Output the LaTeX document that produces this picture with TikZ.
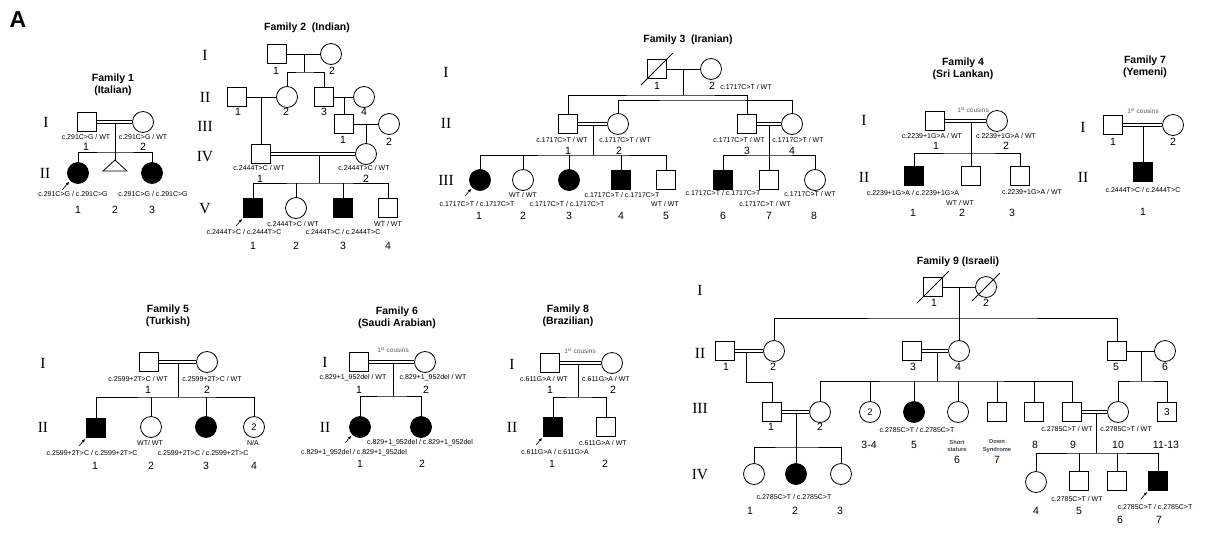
\documentclass[tikz,border=0pt]{standalone}
\usepackage{fontspec}
\setmainfont{Liberation Sans}
\newfontfamily\romfont{Liberation Serif}
\usetikzlibrary{arrows.meta, calc}
\definecolor{ccous}{HTML}{4F5B6E}
\definecolor{cnote}{HTML}{3A4250}
\tikzset{
  every picture/.style={line width=0.8pt},
  male/.style={draw, rectangle, minimum size=19pt, inner sep=0pt},
  female/.style={draw, circle, minimum size=21pt, inner sep=0pt, font=\fontsize{9.5}{9.5}\selectfont},
  aff/.style={fill=black},
  geno/.style={font=\fontsize{7}{7}\selectfont, inner sep=0pt},
  idnum/.style={font=\fontsize{10.5}{11}\selectfont, inner sep=0pt},
  gen/.style={font=\romfont\fontsize{15.5}{15.5}\selectfont, inner sep=0pt},
  famtitle/.style={font=\bfseries\fontsize{10.5}{12.5}\selectfont, align=center, inner sep=0pt},
  mate/.style={double, double distance=2pt, line width=0.6pt},
  proband/.style={-{Latex[length=3.5pt, width=3pt]}, line width=0.6pt},
  cousins/.style={font=\fontsize{6.5}{7}\selectfont, text=ccous, inner sep=0pt},
  note/.style={font=\bfseries\fontsize{5.8}{7.5}\selectfont, text=cnote, align=center, inner sep=0pt},
}
\begin{document}
\begin{tikzpicture}[x=1pt, y=-1pt]
  \useasboundingbox (0,0) rectangle (1215,544);
  \node[font=\bfseries\fontsize{23}{23}\selectfont, inner sep=0pt] (panel) at (18,20) {A};

  % ---------- Family 1 (Italian) ----------
  \node[famtitle] (t1) at (113,85) {Family 1\\(Italian)};
  \node[gen] (g1a) at (46,122) {I};
  \node[gen] (g1b) at (45,173) {II};
  \node[male] (f1I1) at (87,122) {};
  \node[female] (f1I2) at (143,122) {};
  \coordinate (f1m) at (115,122);
  \coordinate (f1s) at (115,152);
  \node[female, aff] (f1II1) at (78,173) {};
  \coordinate (f1II2) at (115,160);
  \node[female, aff] (f1II3) at (152,173) {};
  \draw (f1m) -- (f1II2);
  \draw[mate] (f1I1) -- (f1I2);
  \draw (f1II1.north) |- (f1s) -| (f1II3.north);
  \draw (f1II2) -- ++(12,11) -- ++(-24,0) -- cycle;
  \draw[proband] ([shift={(-8,9)}]f1II1.south west) -- ([shift={(-1,1)}]f1II1.south west);
  \node[geno] (f1g1) at (86,137) {c.291C>G / WT};
  \node[geno] (f1g2) at (143,137) {c.291C>G / WT};
  \node[geno] (f1g3) at (73,194) {c.291C>G / c.291C>G};
  \node[geno] (f1g4) at (153,194) {c.291C>G / c.291C>G};
  \node[idnum] (f1nI1) at (86,147) {1};
  \node[idnum] (f1nI2) at (143,147) {2};
  \foreach \x/\n in {78/1, 115/2, 152/3}
    \node[idnum] (f1n\n) at (\x,210) {\n};

  % ---------- Family 2 (Indian) ----------
  \node[famtitle] (t2) at (307,28) {Family 2\ \ (Indian)};
  \foreach \y/\g [count=\i] in {55/I, 97/II, 126/III, 157/IV, 209/V}
    \node[gen] (g2\i) at (205,\y) {\g};
  \node[male] (f2I1) at (277,54) {};
  \node[female] (f2I2) at (331,54) {};
  \node[male] (f2II1) at (237,97) {};
  \node[female] (f2II2) at (287,97) {};
  \node[male] (f2II3) at (324,97) {};
  \node[female] (f2II4) at (364,97) {};
  \node[male] (f2III1) at (344,124) {};
  \node[female] (f2III2) at (389,124) {};
  \node[male] (f2IV1) at (261,154) {};
  \node[female] (f2IV2) at (366,154) {};
  \node[male, aff] (f2V1) at (253,208) {};
  \node[female] (f2V2) at (296,208) {};
  \node[male, aff] (f2V3) at (343,208) {};
  \node[male] (f2V4) at (388,208) {};
  \coordinate (f2m1) at (304,54);
  \coordinate (f2s1) at (304,72);
  \coordinate (f2m2) at (261,97);
  \coordinate (f2m3) at (344,97);
  \coordinate (f2m4) at (366,124);
  \coordinate (f2m5) at (319,154);
  \coordinate (f2s5) at (319,183);
  \draw (f2I1) -- (f2I2);
  \draw (f2m1) -- (f2s1);
  \draw (f2II2.north) |- (f2s1) -| (f2II3.north);
  \draw (f2II1) -- (f2II2);
  \draw (f2m2) -- (f2IV1.north);
  \draw (f2II3) -- (f2II4);
  \draw (f2m3) -- (f2III1.north);
  \draw (f2III1) -- (f2III2);
  \draw (f2m4) -- (f2IV2.north);
  \draw (f2m5) -- (f2s5);
  \draw[mate] (f2IV1) -- (f2IV2);
  \draw (f2V1.north) |- (f2s5) -| (f2V4.north);
  \foreach \c in {2,3}
    \draw (f2V\c.north) -- (f2V\c.north |- f2s5);
  \draw[proband] ([shift={(-7,8)}]f2V1.south west) -- ([shift={(-1,1)}]f2V1.south west);
  \node[idnum] (f2nI1) at (276,71) {1};
  \node[idnum] (f2nI2) at (332,71) {2};
  \foreach \x/\n in {238/1, 286/2, 324/3, 364/4}
    \node[idnum] (f2nII\n) at (\x,112) {\n};
  \node[idnum] (f2nIII1) at (343,140) {1};
  \node[idnum] (f2nIII2) at (389,142) {2};
  \node[geno] (f2g1) at (259,168) {c.2444T>C / WT};
  \node[geno] (f2g2) at (364,168) {c.2444T>C / WT};
  \node[idnum] (f2nIV1) at (260,179) {1};
  \node[idnum] (f2nIV2) at (366,179) {2};
  \node[geno] (f2g3) at (244,232) {c.2444T>C / c.2444T>C};
  \node[geno] (f2g4) at (293,224) {c.2444T>C / WT};
  \node[geno] (f2g5) at (343,232) {c.2444T>C / c.2444T>C};
  \node[geno] (f2g6) at (388,224) {WT / WT};
  \foreach \x/\n in {253/1, 296/2, 343/3, 388/4}
    \node[idnum] (f2nV\n) at (\x,246) {\n};

  % ---------- Family 3 (Iranian) ----------
  \node[famtitle] (t3) at (688,40) {Family 3\ \ (Iranian)};
  \node[gen] (g3a) at (446,72) {I};
  \node[gen] (g3b) at (446,123) {II};
  \node[gen] (g3c) at (446,180) {III};
  \node[male] (f3I1) at (657,69) {};
  \node[female] (f3I2) at (711,69) {};
  \node[male] (f3II1) at (568,124) {};
  \node[female] (f3II2) at (618,124) {};
  \node[male] (f3II3) at (747,124) {};
  \node[female] (f3II4) at (792,124) {};
  \node[female, aff] (f3III1) at (480,180) {};
  \node[female] (f3III2) at (523,180) {};
  \node[female, aff] (f3III3) at (569,180) {};
  \node[male, aff] (f3III4) at (621,180) {};
  \node[male] (f3III5) at (666,180) {};
  \node[male, aff] (f3III6) at (723,180) {};
  \node[male] (f3III7) at (769,180) {};
  \node[female] (f3III8) at (815,180) {};
  \coordinate (f3m1) at (683,69);
  \coordinate (f3s1) at (683,95);
  \coordinate (f3s2) at (700,100);
  \coordinate (f3m2) at (593,124);
  \coordinate (f3s3) at (593,155);
  \coordinate (f3m3) at (769,124);
  \coordinate (f3s4) at (769,155);
  \draw ([shift={(-6,6)}]f3I1.south west) -- ([shift={(6,-6)}]f3I1.north east);
  \draw (f3I1) -- (f3I2);
  \draw (f3m1) -- (f3s1);
  \draw (f3II1.north) |- (f3s1) -| (f3II3.north);
  \draw (f3II2.north) |- (f3s2) -| (f3II4.north);
  \draw (f3m2) -- (f3s3);
  \draw[mate] (f3II1) -- (f3II2);
  \draw (f3III1.north) |- (f3s3) -| (f3III5.north);
  \foreach \c in {2,3,4}
    \draw (f3III\c.north) -- (f3III\c.north |- f3s3);
  \draw (f3m3) -- (f3III7.north);
  \draw[mate] (f3II3) -- (f3II4);
  \draw (f3III6.north) |- (f3s4) -| (f3III8.north);
  \draw[proband] ([shift={(-7,8)}]f3III1.south west) -- ([shift={(-1,1)}]f3III1.south west);
  \node[idnum] (f3nI1) at (657,86) {1};
  \node[idnum] (f3nI2) at (712,86) {2};
  \node[geno] (f3g0) at (746,87) {c.1717C>T / WT};
  \node[geno] (f3g1) at (562,140) {c.1717C>T / WT};
  \node[geno] (f3g2) at (625,140) {c.1717C>T / WT};
  \node[geno] (f3g3) at (739,140) {c.1717C>T / WT};
  \node[geno] (f3g4) at (798,140) {c.1717C>T / WT};
  \foreach \x/\n in {568/1, 619/2, 747/3, 792/4}
    \node[idnum] (f3nII\n) at (\x,151) {\n};
  \node[geno] (f3g5) at (477,204) {c.1717C>T / c.1717C>T};
  \node[geno] (f3g6) at (523,195) {WT / WT};
  \node[geno] (f3g7) at (567,204) {c.1717C>T / c.1717C>T};
  \node[geno] (f3g8) at (622,195) {c.1717C>T / c.1717C>T};
  \node[geno] (f3g9) at (665,204) {WT / WT};
  \node[geno] (f3g10) at (723,193) {c.1717C>T / c.1717C>T};
  \node[geno] (f3g11) at (765,204) {c.1717C>T / WT};
  \node[geno] (f3g12) at (810,194) {c.1717C>T / WT};
  \foreach \x/\n in {479/1, 523/2, 569/3, 621/4, 666/5, 723/6, 769/7, 814/8}
    \node[idnum] (f3nIII\n) at (\x,216) {\n};

  % ---------- Family 4 (Sri Lankan) ----------
  \node[famtitle] (t4) at (963,69) {Family 4\\(Sri Lankan)};
  \node[gen] (g4a) at (864,120) {I};
  \node[gen] (g4b) at (864,177) {II};
  \node[male] (f4I1) at (935,121) {};
  \node[female] (f4I2) at (997,121) {};
  \node[male, aff] (f4II1) at (914,176) {};
  \node[male] (f4II2) at (971,176) {};
  \node[male] (f4II3) at (1020,176) {};
  \coordinate (f4m) at (971,121);
  \coordinate (f4s) at (971,153);
  \draw (f4m) -- (f4II2.north);
  \draw[mate] (f4I1) -- (f4I2);
  \draw (f4II1.north) |- (f4s) -| (f4II3.north);
  \node[cousins] (f4c) at (973,110) {1\textsuperscript{st} cousins};
  \node[geno] (f4g1) at (932,136) {c.2239+1G>A / WT};
  \node[geno] (f4g2) at (1006,136) {c.2239+1G>A / WT};
  \node[idnum] (f4nI1) at (936,146) {1};
  \node[idnum] (f4nI2) at (1006,146) {2};
  \node[geno] (f4g3) at (913,193) {c.2239+1G>A / c.2239+1G>A};
  \node[geno] (f4g4) at (960,203) {WT / WT};
  \node[geno] (f4g5) at (1032,192) {c.2239+1G>A / WT};
  \foreach \x/\n in {913/1, 962/2, 1012/3}
    \node[idnum] (f4nII\n) at (\x,213) {\n};

  % ---------- Family 7 (Yemeni) ----------
  \node[famtitle] (t7) at (1145,67) {Family 7\\(Yemeni)};
  \node[gen] (g7a) at (1083,127) {I};
  \node[gen] (g7b) at (1083,177) {II};
  \node[male] (f7I1) at (1113,125) {};
  \node[female] (f7I2) at (1173,125) {};
  \node[male, aff] (f7II1) at (1143,172) {};
  \coordinate (f7m) at (1143,125);
  \draw (f7m) -- (f7II1.north);
  \draw[mate] (f7I1) -- (f7I2);
  \node[cousins] (f7c) at (1143,111) {1\textsuperscript{st} cousins};
  \node[idnum] (f7nI1) at (1113,142) {1};
  \node[idnum] (f7nI2) at (1173,142) {2};
  \node[geno] (f7g1) at (1143,190) {c.2444T>C / c.2444T>C};
  \node[idnum] (f7nII1) at (1143,212) {1};

  % ---------- Family 5 (Turkish) ----------
  \node[famtitle] (t5) at (168,316) {Family 5\\(Turkish)};
  \node[gen] (g5a) at (43,363) {I};
  \node[gen] (g5b) at (43,427) {II};
  \node[male] (f5I1) at (149,362) {};
  \node[female] (f5I2) at (207,362) {};
  \node[male, aff] (f5II1) at (96,428) {};
  \node[female] (f5II2) at (151,427) {};
  \node[female, aff] (f5II3) at (206,427) {};
  \node[female] (f5II4) at (254,427) {2};
  \coordinate (f5m) at (178,362);
  \coordinate (f5s) at (178,397);
  \draw (f5m) -- (f5s);
  \draw[mate] (f5I1) -- (f5I2);
  \draw (f5II1.north) |- (f5s) -| (f5II4.north);
  \foreach \c in {2,3}
    \draw (f5II\c.north) -- (f5II\c.north |- f5s);
  \draw[proband] ([shift={(-7,8)}]f5II1.south west) -- ([shift={(-1,1)}]f5II1.south west);
  \node[geno] (f5g1) at (138,379) {c.2599+2T>C / WT};
  \node[geno] (f5g2) at (212,379) {c.2599+2T>C / WT};
  \node[idnum] (f5nI1) at (148,390) {1};
  \node[idnum] (f5nI2) at (207,390) {2};
  \node[geno] (f5g3) at (92,453) {c.2599+2T>C / c.2599+2T>C};
  \node[geno] (f5g4) at (150,443) {WT/ WT};
  \node[geno] (f5g5) at (203,453) {c.2599+2T>C / c.2599+2T>C};
  \node[geno] (f5g6) at (253,443) {N/A};
  \foreach \x/\n in {95/1, 151/2, 206/3, 254/4}
    \node[idnum] (f5nII\n) at (\x,466) {\n};

  % ---------- Family 6 (Saudi Arabian) ----------
  \node[famtitle] (t6) at (397,318) {Family 6\\(Saudi Arabian)};
  \node[gen] (g6a) at (325,362) {I};
  \node[gen] (g6b) at (325,427) {II};
  \node[male] (f6I1) at (359,362) {};
  \node[female] (f6I2) at (425,362) {};
  \node[female, aff] (f6II1) at (360,427) {};
  \node[female, aff] (f6II2) at (421,427) {};
  \coordinate (f6m) at (393,362);
  \coordinate (f6s) at (393,396);
  \draw (f6m) -- (f6s);
  \draw[mate] (f6I1) -- (f6I2);
  \draw (f6II1.north) |- (f6s) -| (f6II2.north);
  \draw[proband] ([shift={(-7,8)}]f6II1.south west) -- ([shift={(-1,1)}]f6II1.south west);
  \node[cousins] (f6c) at (393,350) {1\textsuperscript{st} cousins};
  \node[geno] (f6g1) at (353,378) {c.829+1\_952del / WT};
  \node[geno] (f6g2) at (433,378) {c.829+1\_952del / WT};
  \node[idnum] (f6nI1) at (359,390) {1};
  \node[idnum] (f6nI2) at (426,390) {2};
  \node[geno] (f6g3) at (354,453) {c.829+1\_952del / c.829+1\_952del};
  \node[geno] (f6g4) at (420,443) {c.829+1\_952del / c.829+1\_952del};
  \node[idnum] (f6nII1) at (360,464) {1};
  \node[idnum] (f6nII2) at (422,464) {2};

  % ---------- Family 8 (Brazilian) ----------
  \node[famtitle] (t8) at (568,316) {Family 8\\(Brazilian)};
  \node[gen] (g8a) at (512,364) {I};
  \node[gen] (g8b) at (512,427) {II};
  \node[male] (f8I1) at (550,363) {};
  \node[female] (f8I2) at (612,363) {};
  \node[male, aff] (f8II1) at (553,427) {};
  \node[male] (f8II2) at (606,427) {};
  \coordinate (f8m) at (578,363);
  \coordinate (f8s) at (578,397);
  \draw (f8m) -- (f8s);
  \draw[mate] (f8I1) -- (f8I2);
  \draw (f8II1.north) |- (f8s) -| (f8II2.north);
  \draw[proband] ([shift={(-7,8)}]f8II1.south west) -- ([shift={(-1,1)}]f8II1.south west);
  \node[cousins] (f8c) at (580,351) {1\textsuperscript{st} cousins};
  \node[geno] (f8g1) at (544,379) {c.611G>A / WT};
  \node[geno] (f8g2) at (606,379) {c.611G>A / WT};
  \node[idnum] (f8nI1) at (550,390) {1};
  \node[idnum] (f8nI2) at (613,390) {2};
  \node[geno] (f8g3) at (555,452) {c.611G>A / c.611G>A};
  \node[geno] (f8g4) at (603,443) {c.611G>A / WT};
  \node[idnum] (f8nII1) at (552,464) {1};
  \node[idnum] (f8nII2) at (605,464) {2};

  % ---------- Family 9 (Israeli) ----------
  \node[famtitle] (t9) at (958,262) {Family 9 (Israeli)};
  \node[gen] (g9a) at (700,290) {I};
  \node[gen] (g9b) at (700,353) {II};
  \node[gen] (g9c) at (700,408) {III};
  \node[gen] (g9d) at (700,475) {IV};
  \node[male] (f9I1) at (933,287) {};
  \node[female] (f9I2) at (986,287) {};
  \node[male] (f9II1) at (725,351) {};
  \node[female] (f9II2) at (774,351) {};
  \node[male] (f9II3) at (912,351) {};
  \node[female] (f9II4) at (959,351) {};
  \node[male] (f9II5) at (1117,351) {};
  \node[female] (f9II6) at (1165,351) {};
  \node[male] (f9III1) at (772,412) {};
  \node[female] (f9III2) at (820,412) {};
  \node[female] (f9III34) at (870,412) {2};
  \node[female, aff] (f9III5) at (914,412) {};
  \node[female] (f9III6) at (958,412) {};
  \node[male] (f9III7) at (997,412) {};
  \node[male] (f9III8) at (1034,412) {};
  \node[male] (f9III9) at (1072,412) {};
  \node[female] (f9III10) at (1118,412) {};
  \node[male] (f9III11) at (1167,412) {3};
  \node[female] (f9IV1) at (754,474) {};
  \node[female, aff] (f9IV2) at (796,474) {};
  \node[female] (f9IV3) at (841,474) {};
  \node[female] (f9IV4) at (1036,482) {};
  \node[male] (f9IV5) at (1079,481) {};
  \node[male] (f9IV6) at (1117,481) {};
  \node[male, aff] (f9IV7) at (1158,481) {};
  \coordinate (f9m0) at (959,287);
  \coordinate (f9s0) at (959,318);
  \coordinate (f9m1) at (746,351);
  \coordinate (f9m2) at (937,351);
  \coordinate (f9s2) at (937,381);
  \coordinate (f9m3) at (1141,351);
  \coordinate (f9s3) at (1141,381);
  \coordinate (f9m4) at (796,412);
  \coordinate (f9s4) at (796,447);
  \coordinate (f9m5) at (1096,412);
  \coordinate (f9s5) at (1096,453);
  \draw ([shift={(-6,6)}]f9I1.south west) -- ([shift={(6,-6)}]f9I1.north east);
  \draw ([shift={(-6,6)}]f9I2.south west) -- ([shift={(6,-6)}]f9I2.north east);
  \draw (f9I1) -- (f9I2);
  \draw (f9m0) -- (f9II4.north);
  \draw (f9II2.north) |- (f9s0) -| (f9II5.north);
  \draw (f9m1) -- ++(0,31) -| (f9III1.north);
  \draw[mate] (f9II1) -- (f9II2);
  \draw (f9m2) -- (f9s2);
  \draw[mate] (f9II3) -- (f9II4);
  \draw (f9III2.north) |- (f9s2) -| (f9III9.north);
  \foreach \c in {34,5,6,7,8}
    \draw (f9III\c.north) -- (f9III\c.north |- f9s2);
  \draw (f9m3) -- (f9s3);
  \draw (f9II5) -- (f9II6);
  \draw (f9III10.north) |- (f9s3) -| (f9III11.north);
  \draw (f9m4) -- (f9IV2.north);
  \draw[mate] (f9III1) -- (f9III2);
  \draw (f9IV1.north) |- (f9s4) -| (f9IV3.north);
  \draw (f9m5) -- (f9s5);
  \draw[mate] (f9III9) -- (f9III10);
  \draw (f9IV4.north) |- (f9s5) -| (f9IV7.north);
  \foreach \c in {5,6}
    \draw (f9IV\c.north) -- (f9IV\c.north |- f9s5);
  \draw[proband] ([shift={(-7,8)}]f9IV7.south west) -- ([shift={(-1,1)}]f9IV7.south west);
  \node[idnum] (f9nI1) at (934,303) {1};
  \node[idnum] (f9nI2) at (986,303) {2};
  \foreach \x/\n in {726/1, 773/2, 913/3, 958/4, 1116/5, 1165/6}
    \node[idnum] (f9nII\n) at (\x,367) {\n};
  \node[idnum] (f9nIII1) at (771,427) {1};
  \node[idnum] (f9nIII2) at (820,427) {2};
  \node[idnum] (f9nIII34) at (869,445) {3-4};
  \node[idnum] (f9nIII5) at (914,445) {5};
  \node[note] (f9t6) at (957,446) {Short\\stature};
  \node[idnum] (f9nIII6) at (957,460) {6};
  \node[note] (f9t7) at (997,446) {Down\\Syndrome};
  \node[idnum] (f9nIII7) at (997,460) {7};
  \foreach \x/\n in {1035/8, 1073/9, 1118/10}
    \node[idnum] (f9nIII\n) at (\x,445) {\n};
  \node[idnum] (f9nIII11) at (1166,445) {11-13};
  \node[geno] (f9g1) at (917,430) {c.2785C>T / c.2785C>T};
  \node[geno] (f9g2) at (1067,429) {c.2785C>T / WT};
  \node[geno] (f9g3) at (1126,429) {c.2785C>T / WT};
  \node[geno] (f9g4) at (794,497) {c.2785C>T / c.2785C>T};
  \foreach \x/\n in {750/1, 795/2, 840/3}
    \node[idnum] (f9nIV\n) at (\x,511) {\n};
  \node[geno] (f9g5) at (1077,499) {c.2785C>T / WT};
  \node[geno] (f9g6) at (1155,507) {c.2785C>T / c.2785C>T};
  \node[idnum] (f9nIV4) at (1036,511) {4};
  \node[idnum] (f9nIV5) at (1079,511) {5};
  \node[idnum] (f9nIV6) at (1120,520) {6};
  \node[idnum] (f9nIV7) at (1159,520) {7};
\end{tikzpicture}
\end{document}
